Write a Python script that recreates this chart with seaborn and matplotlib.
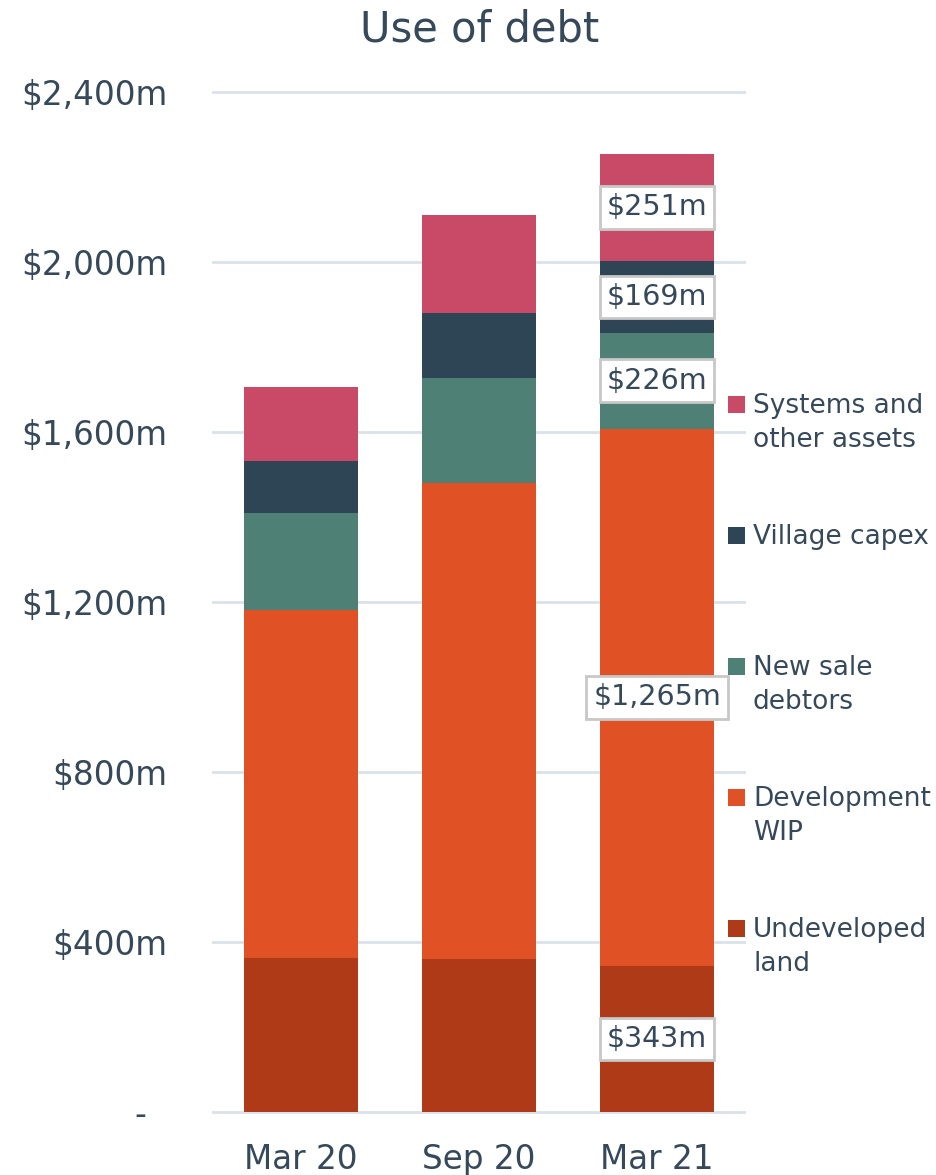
import numpy as np
import pandas as pd
import seaborn as sns
import matplotlib.pyplot as plt
from matplotlib.patches import Rectangle

categories = ["Mar 20", "Sep 20", "Mar 21"]
undeveloped = [362, 360, 343]
wip = [819, 1120, 1265]
new_sale = [228, 247, 226]
village = [123, 153, 169]
systems = [174, 231, 251]

series_names = ["Undeveloped\nland", "Development\nWIP", "New sale\ndebtors",
                "Village capex", "Systems and\nother assets"]
series_values = [undeveloped, wip, new_sale, village, systems]
colors = ["#ae3a17", "#e05226", "#4e8076", "#2e4556", "#c94a66"]

yticks = [0, 400, 800, 1200, 1600, 2000, 2400]
ytick_labels = ["-  ", "$400m", "$800m", "$1,200m", "$1,600m", "$2,000m", "$2,400m"]

text_col = "#36495a"
grid_col = "#d9e2ea"

sns.set_theme(style="white")
plt.rcParams["font.family"] = ["DejaVu Sans"]

W, H = 937, 1175
fig = plt.figure(figsize=(W / 100, H / 100), dpi=100)
ymin, ymax = -5, 2405
ppu = 0.425
ax = fig.add_axes([212 / W, (H - 1112 - 5 * ppu) / H, 534 / W, (ymax - ymin) * ppu / H])

df = pd.DataFrame({"period": categories})
cum = np.cumsum(np.array(series_values), axis=0)
# stacked look: draw cumulative totals from the top layer down
for i in range(len(series_values) - 1, -1, -1):
    df["v"] = cum[i]
    sns.barplot(data=df, x="period", y="v", color=colors[i], width=0.64,
                saturation=1, ax=ax, zorder=3, linewidth=0, edgecolor="none")

for y in yticks:
    ax.axhline(y, color=grid_col, lw=2, zorder=1)

ax.set_ylim(ymin, ymax)
ax.set_xlim(-0.5, 2.5)
ax.set_yticks(yticks)
ax.set_yticklabels(ytick_labels)
ax.set_xlabel("")
ax.set_ylabel("")
for s in ax.spines.values():
    s.set_visible(False)
ax.tick_params(axis="y", length=0, pad=32, labelsize=23.5, labelcolor=text_col)
ax.tick_params(axis="x", length=0, pad=21, labelsize=23.5, labelcolor=text_col)

# data labels on the last bar
j = len(categories) - 1
for i, vals in enumerate(series_values):
    base = cum[i][j] - vals[j]
    ax.text(j, base + vals[j] / 2, f"${vals[j]:,}m", ha="center", va="center",
            fontsize=20.5, color=text_col, zorder=5,
            bbox=dict(boxstyle="square,pad=0.25", fc="white", ec="#c8c8c8", lw=2))

fig.text(480 / W, 1 - 30 / H, "Use of debt", ha="center", va="center",
         fontsize=30, color=text_col)

# legend, top entry first
for k, i in enumerate(range(len(series_names) - 1, -1, -1)):
    base_px = 413 + 131 * k
    fig.patches.append(Rectangle((728 / W, 1 - base_px / H), 17 / W, 17 / H,
                                 transform=fig.transFigure, fc=colors[i], ec="none"))
    for n, line in enumerate(series_names[i].split("\n")):
        fig.text(753 / W, 1 - (base_px + 34 * n) / H, line, ha="left", va="baseline",
                 fontsize=19, color=text_col)

fig.savefig("out.png", dpi=100)
